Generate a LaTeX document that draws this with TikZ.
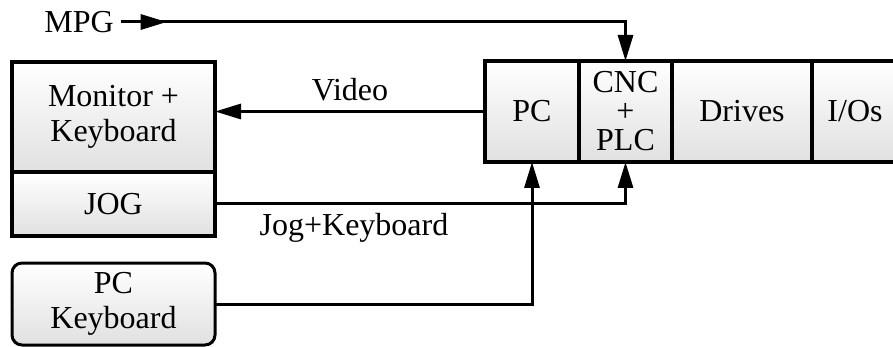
\documentclass[tikz,border=0pt]{standalone}
\usepackage{fontspec}
\setmainfont{Liberation Serif}
\usetikzlibrary{positioning, arrows.meta}

\tikzset{
  unit/.style={draw, line width=2pt, outer sep=0pt, inner sep=0pt, align=center,
    top color=white, bottom color=black!12},
  link/.style={line width=1.5pt},
  tip/.style={-{Triangle[length=13pt,width=7.5pt]}}
}

\begin{document}
\begin{tikzpicture}[x=0.5pt, y=-0.5pt, font=\fontsize{16}{17.5}\selectfont]
	\useasboundingbox (0,0) rectangle (893,347);
	\clip (0,0) rectangle (893,347);

	% operator side
	\node[unit, minimum width=101.5pt, minimum height=55pt] (monitor) at (113.5,117) {Monitor +\\Keyboard};
	\node[unit, minimum width=101.5pt, minimum height=32pt, below=0pt of monitor] (jog) {JOG};
	\node[unit, rounded corners=5pt, line width=1.5pt, minimum width=101.5pt, minimum height=41pt] (pckbd) at (113.5,304) {PC\\Keyboard};

	% controller rack
	\node[unit, minimum width=47pt, minimum height=50.5pt] (pc) at (532,111.5) {PC};
	\node[unit, minimum width=46.5pt, minimum height=50.5pt, right=0pt of pc,
	  font=\fontsize{16}{14.5}\selectfont] (cnc) {CNC\\+\\PLC};
	\node[unit, minimum width=70pt, minimum height=50.5pt, right=0pt of cnc] (drives) {Drives};
	\node[unit, minimum width=43pt, minimum height=50.5pt, right=0pt of drives] (ios) {I/Os};

	\node (mpg) at (79,22) {MPG};

	% connections
	\draw[link, tip] (mpg.east) -- ++(46,0);
	\draw[link, tip] (mpg.east) -| (cnc.north);
	\draw[link, tip] (pc.west) -- (pc.west -| monitor.east);
	\draw[link, tip] (jog.east) -| (cnc.south);
	\draw[link, tip] (pckbd.east) -| (pc.south);

	\node (video) at (350,90) {Video};
	\node (jogkbd) at (354,228) {Jog+Keyboard};
\end{tikzpicture}
\end{document}
